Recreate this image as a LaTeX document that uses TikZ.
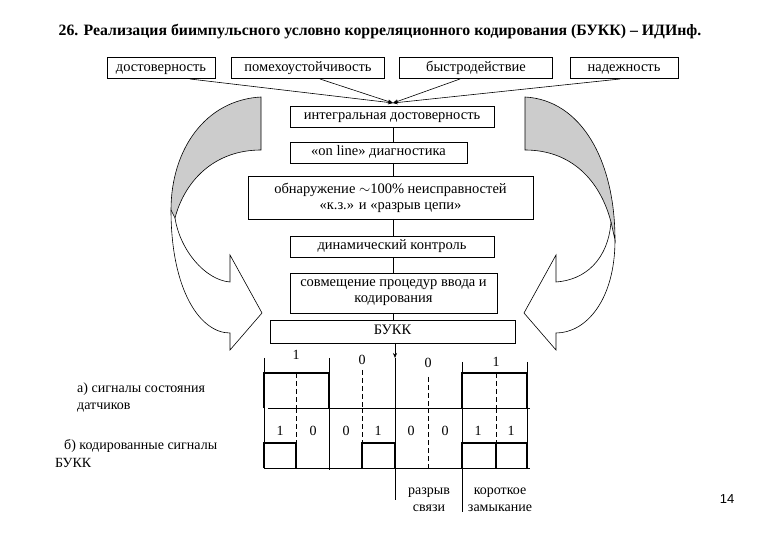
\documentclass[tikz,border=0pt]{standalone}
\usepackage{fontspec}
\setmainfont{Liberation Serif}
\newfontfamily\numfont{Liberation Sans}
\usetikzlibrary{arrows.meta}
\begin{document}
\begin{tikzpicture}[x=1pt,y=-1pt,
  bx/.style={draw,line width=0.6pt,minimum height=21pt,inner sep=1pt,font=\fontsize{14.5}{16}\selectfont,align=center,text height=10pt,text depth=3pt},
  lbl/.style={font=\fontsize{14}{17}\selectfont,inner sep=0pt},
  arr/.style={-{Stealth[length=5pt,width=4pt]},line width=0.6pt},
  thk/.style={line width=1.8pt},
  thn/.style={line width=0.6pt},
  dsh/.style={line width=0.6pt,dash pattern=on 5pt off 3pt}]
\useasboundingbox (0,0) rectangle (780,540);
\node[font=\bfseries\fontsize{15.8}{18}\selectfont] (title) at (380,32) {26. Реализация биимпульсного условно корреляционного кодирования (БУКК) – ИДИнф.};
% curved arrows
\fill[white!80!black,draw=black,thn] (261,97) .. controls (205,100) and (171,150) .. (171,210) -- (175,218) .. controls (185,180) and (215,150) .. (261,150) -- cycle;
\draw[thn] (171,210) .. controls (171,290) and (200,333) .. (230,333) -- (230,350) -- (262,313) -- (230,255) -- (230,282) .. controls (205,280) and (180,250) .. (175,218);
\fill[white!80!black,draw=black,thn] (525,97) .. controls (581,100) and (615,160) .. (615,240) -- (611,222) .. controls (600,180) and (571,150) .. (525,150) -- cycle;
\draw[thn] (615,240) .. controls (615,300) and (586,333) .. (556,333) -- (556,350) -- (524,313) -- (556,255) -- (556,282) .. controls (585,280) and (608,260) .. (611,222);
% top boxes
\node[bx,minimum width=108pt] (d) at (161,68) {достоверность};
\node[bx,minimum width=153pt] (p) at (308,68) {помехоустойчивость};
\node[bx,minimum width=153pt] (b) at (476,68) {быстродействие};
\node[bx,minimum width=108pt] (n) at (624,68) {надежность};
\coordinate (c) at (393,103);
\foreach \s/\xx in {d/190,p/320,b/460,n/620} \draw[arr] (\xx,79) -- (c);
\node[bx,minimum width=204pt] (i) at (392,116.5) {интегральная достоверность};
\node[bx,minimum width=177pt] (o) at (378.5,152.5) {«on line» диагностика};
\node[bx,minimum width=285pt,minimum height=43pt,text height=,text depth=] (ob) at (390.5,197.5) {обнаружение $\sim$100\% неисправностей\\«к.з.» и «разрыв цепи»};
\node[bx,minimum width=204pt] (dk) at (392,246.5) {динамический контроль};
\node[bx,minimum width=207pt,minimum height=40pt,text height=,text depth=] (sv) at (393.5,293) {совмещение процедур ввода и\\кодирования};
\node[bx,minimum width=245pt,minimum height=23pt] (bk) at (392.5,331.5) {БУКК};
\draw[thn] (393,127) -- (393,142);
\draw[thn] (393,163) -- (393,176);
\draw[thn] (393,219) -- (393,236);
\draw[thn] (393,257) -- (393,273);
\draw[thn] (393,313) -- (393,320);
\coordinate (sp) at (395,358);
\draw[arr] (395,343) -- (sp);
\draw[thn] (sp) -- (395,500);
% waveform axes
\draw[thn] (268,408) -- (530,408);
\draw[thn] (264,468) -- (530,468);
% top signal
\draw[thk] (264,408) -- (264,373) -- (329,373) -- (329,408);
\draw[thk] (462,408) -- (462,373) -- (527,373) -- (527,408);
\draw[thn] (264,358) -- (264,373) (329,358) -- (329,373) (462,362) -- (462,373) (527,362) -- (527,373);
\draw[dsh] (296,373) -- (296,408);
\draw[dsh] (362,370) -- (362,408);
\draw[dsh] (428,377) -- (428,408);
\draw[dsh] (496,373) -- (496,408);
\node[lbl] (t1) at (296,355) {1};
\node[lbl] (t2) at (362,360) {0};
\node[lbl] (t3) at (428,363) {0};
\node[lbl] (t4) at (496,362) {1};
% bottom signal
\draw[thn] (264,408) -- (264,443);
\draw[thk] (264,468) -- (264,443) -- (296,443) -- (296,468);
\draw[dsh] (296,408) -- (296,443);
\draw[thn] (329,408) -- (329,470);
\draw[dsh] (362,408) -- (362,443);
\draw[thk] (362,468) -- (362,443) -- (395,443) -- (395,468);
\draw[dsh] (428,408) -- (428,468);
\draw[thn] (462,408) -- (462,443) (462,468) -- (462,512) (527,408) -- (527,443);
\draw[thk] (462,468) -- (462,443) -- (527,443) -- (527,468);
\draw[dsh] (496,408) -- (496,443);
\draw[thk] (496,443) -- (496,468);
\foreach \xx/\v [count=\k] in {280/1,313/0,346/0,378/1,411/0,445/0,478/1,511/1}
  \node[lbl] (b\k) at (\xx,431) {\v};
% labels
\node[lbl,anchor=west,align=left] (la) at (77,397) {а) сигналы состояния\\датчиков};
\node[lbl,anchor=west] (lb1) at (64,446) {б) кодированные сигналы};
\node[lbl,anchor=west] (lb2) at (55,463) {БУКК};
\node[lbl,align=center] (rz) at (429,500) {разрыв\\связи};
\node[lbl,align=center] (kz) at (500,500) {короткое\\замыкание};
\node[font=\numfont\fontsize{13}{15}\selectfont] (pg) at (727,499) {14};
\end{tikzpicture}
\end{document}
